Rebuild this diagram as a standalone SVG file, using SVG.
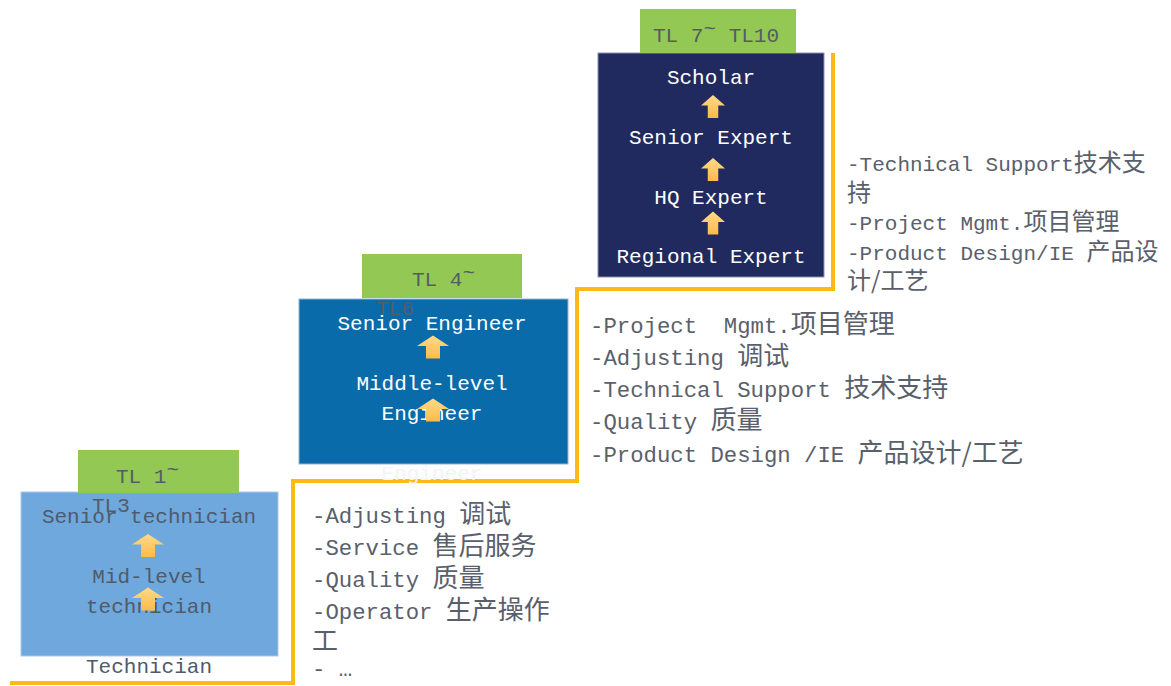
<svg xmlns="http://www.w3.org/2000/svg" xmlns:xlink="http://www.w3.org/1999/xlink" width="1171" height="686" viewBox="0 0 1171 686">
<style>
text{font-family:"Liberation Mono","Noto Sans CJK SC",monospace;white-space:pre}
.bx{font-size:21px;text-anchor:middle}
.w{fill:#ffffff}
.g{fill:#4f5a6c}
.lbl{font-size:21px;fill:#555c64}
.lst{font-size:22.3px;fill:#59606c}
.lst2{font-size:21px;fill:#59606c}
.cjk{font-family:"Noto Sans CJK SC",sans-serif;font-size:26px}
.cjk2{font-family:"Noto Sans CJK SC",sans-serif;font-size:24px}
.green{fill:#92c853}
.conn{fill:none;stroke:#fbbb14;stroke-width:4;stroke-linejoin:miter}
</style>
<defs>
<linearGradient id="ag" x1="0" y1="0" x2="0" y2="1">
<stop offset="0" stop-color="#ffd98a"/>
<stop offset="1" stop-color="#fdbb48"/>
</linearGradient>
<path id="arr" d="M0,-11.5 L16,-1 L7,-1 L7,11.5 L-7,11.5 L-7,-1 L-16,-1 Z" fill="url(#ag)"/>
</defs>
<rect width="1171" height="686" fill="#ffffff"/>
<g id="connectors">
<path class="conn" d="M10,683 H293 V481 H577 V289 H833 V53"/>
</g>
<g id="node-tl1">
<rect x="21" y="492" width="257" height="164" fill="#6fa8dc" stroke="#a9c9ea" stroke-width="1"/>
<rect class="green" x="78" y="450" width="161" height="43"/>
<text class="lbl" x="116" y="483">TL 1<tspan dy="-7">~</tspan></text>
<text class="lbl" x="92" y="512">TL3</text>
<text class="bx g" x="149" y="523">Senior technician</text>
<use xlink:href="#arr" x="148" y="545.5"/>
<text class="bx g" x="149" y="583">Mid-level</text>
<text class="bx g" x="149" y="613">technician</text>
<use xlink:href="#arr" x="148" y="599"/>
<text class="bx g" x="149" y="673">Technician</text>
</g>
<g id="node-tl4">
<rect x="299" y="299" width="269" height="165" fill="#0a6baa" stroke="#8fb6d6" stroke-width="1"/>
<rect class="green" x="362" y="254" width="160" height="44"/>
<text class="lbl" x="412" y="286">TL 4<tspan dy="-7">~</tspan></text>
<text class="lbl" x="376" y="315">TL6</text>
<text class="bx w" x="432" y="330">Senior Engineer</text>
<use xlink:href="#arr" x="433" y="347"/>
<text class="bx w" x="432" y="390">Middle-level</text>
<text class="bx w" x="432" y="420">Engineer</text>
<use xlink:href="#arr" x="433" y="410"/>
<text class="bx" x="432" y="480" fill="#f2f4f6">Engineer</text>
</g>
<g id="node-tl7">
<rect x="598" y="53" width="226" height="224" fill="#202a5e" stroke="#8a90b0" stroke-width="1"/>
<rect class="green" x="640" y="9" width="156" height="44"/>
<text class="lbl" x="653" y="42">TL 7<tspan dy="-7">~</tspan><tspan dy="7"> TL10</tspan></text>
<text class="bx w" x="711" y="84">Scholar</text>
<use xlink:href="#arr" transform="translate(713,106.5) scale(0.75,1)"/>
<text class="bx w" x="711" y="144">Senior Expert</text>
<use xlink:href="#arr" transform="translate(713,169.5) scale(0.75,1)"/>
<text class="bx w" x="711" y="204">HQ Expert</text>
<use xlink:href="#arr" transform="translate(713,223) scale(0.75,1)"/>
<text class="bx w" x="711" y="263">Regional Expert</text>
</g>
<g id="list-tl1">
<text class="lst" x="312" y="523">-Adjusting <tspan class="cjk">调试</tspan></text>
<text class="lst" x="312" y="555">-Service <tspan class="cjk">售后服务</tspan></text>
<text class="lst" x="312" y="587">-Quality <tspan class="cjk">质量</tspan></text>
<text class="lst" x="312" y="619">-Operator <tspan class="cjk">生产操作</tspan></text>
<text class="lst" x="312" y="650"><tspan class="cjk">工</tspan></text>
<text class="lst" x="312" y="676">- …</text>
</g>
<g id="list-tl4">
<text class="lst" x="590" y="333">-Project  Mgmt.<tspan class="cjk">项目管理</tspan></text>
<text class="lst" x="590" y="365">-Adjusting <tspan class="cjk">调试</tspan></text>
<text class="lst" x="590" y="397">-Technical Support <tspan class="cjk">技术支持</tspan></text>
<text class="lst" x="590" y="429">-Quality <tspan class="cjk">质量</tspan></text>
<text class="lst" x="590" y="462">-Product Design /IE <tspan class="cjk">产品设计/工艺</tspan></text>
</g>
<g id="list-tl7">
<text class="lst2" x="847" y="171">-Technical Support<tspan class="cjk2">技术支</tspan></text>
<text class="lst2" x="847" y="201"><tspan class="cjk2">持</tspan></text>
<text class="lst2" x="847" y="230">-Project Mgmt.<tspan class="cjk2">项目管理</tspan></text>
<text class="lst2" x="847" y="260">-Product Design/IE <tspan class="cjk2">产品设</tspan></text>
<text class="lst2" x="847" y="289"><tspan class="cjk2">计/工艺</tspan></text>
</g>
</svg>
